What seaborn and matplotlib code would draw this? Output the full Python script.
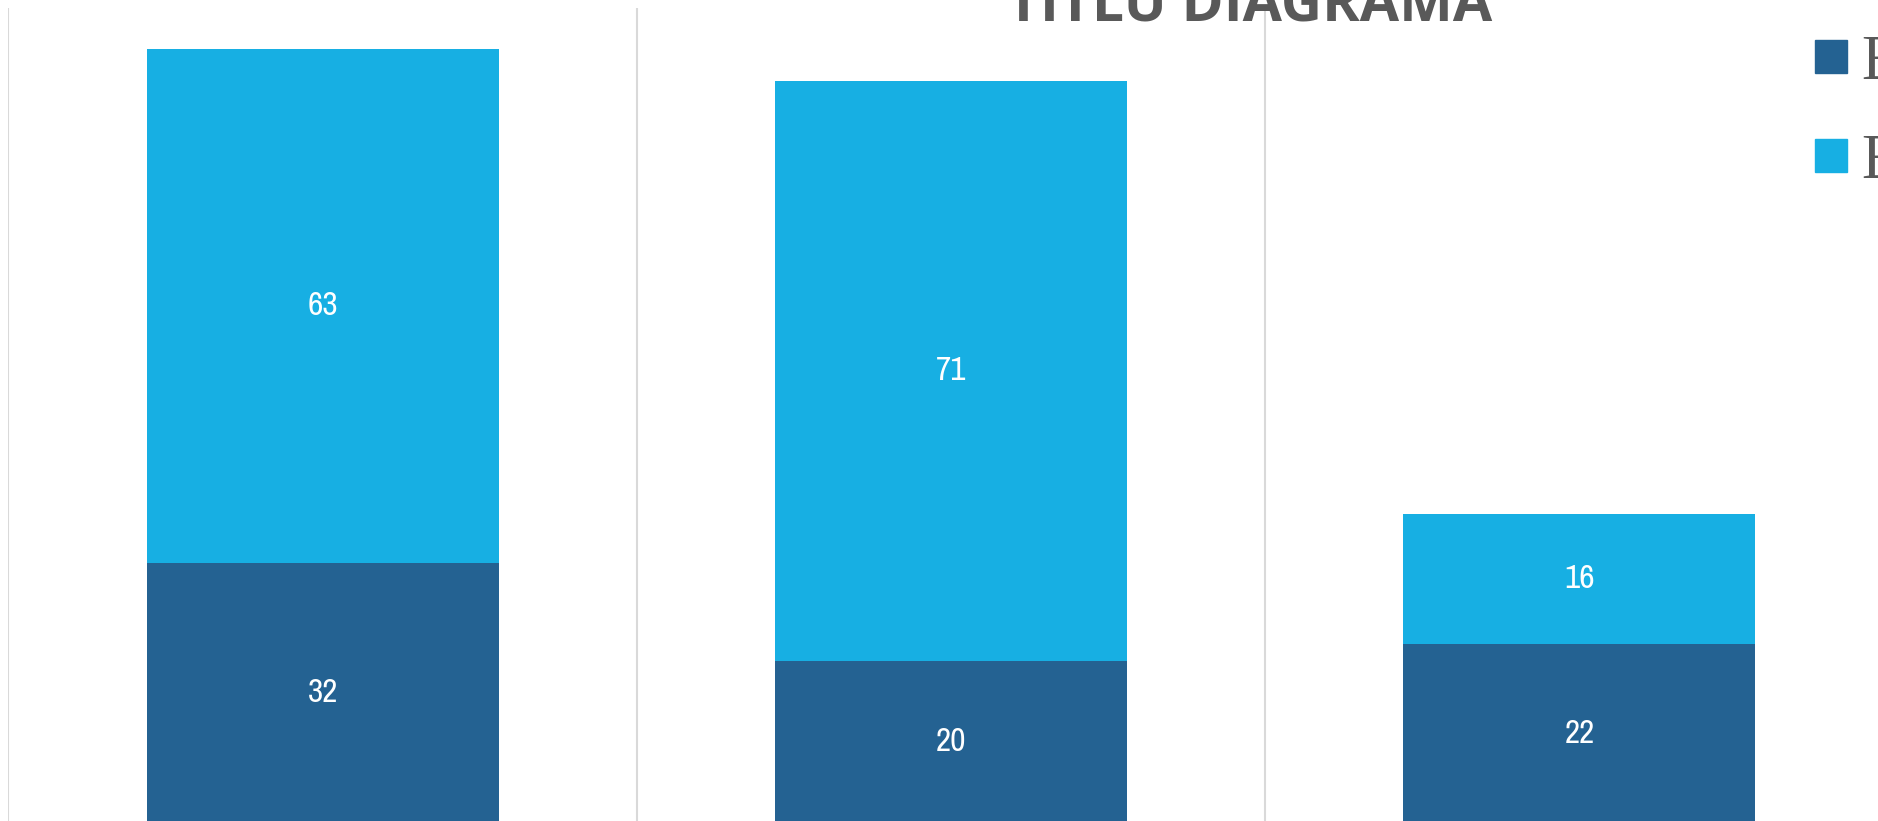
import pandas as pd
import seaborn as sns
import matplotlib.pyplot as plt
from matplotlib.patches import Patch
from matplotlib import font_manager as fm

# Data
categories = ['Categoria 1', 'Categoria 2', 'Categoria 3']
serie_1 = [32, 20, 22]   # dark segment (bottom)
serie_2 = [63, 71, 16]   # light segment (top)
legend_labels = ['Elevi promovați', 'Elevi corigenți']
chart_title = 'TITLU DIAGRAMA'

dark = '#246292'
light = '#17AFE3'
grey_text = '#595959'

df = pd.DataFrame({'categorie': categories, 'serie_1': serie_1, 'serie_2': serie_2})
df['total'] = df['serie_1'] + df['serie_2']

sns.set_style('white')

# narrow face for the data labels if one is installed
names = sorted({f.name for f in fm.fontManager.ttflist})
narrow = [n for n in names if 'Narrow' in n or 'Condensed' in n]
label_font = narrow[0] if narrow else 'Liberation Sans'
plt.rcParams['font.family'] = [label_font, 'DejaVu Sans']

W, H = 1878, 821
fig = plt.figure(figsize=(W / 100, H / 100), dpi=100)
# plot area is larger than the visible crop
ax = fig.add_axes([8.4 / W, -3 / H, 1885.2 / W, 816 / H])

# stacked bars: total in light colour, bottom series drawn over it
sns.barplot(data=df, x='categorie', y='total', color=light, width=0.56,
            linewidth=0, saturation=1, errorbar=None, ax=ax)
sns.barplot(data=df, x='categorie', y='serie_1', color=dark, width=0.56,
            linewidth=0, saturation=1, errorbar=None, ax=ax)

ax.set_xlim(-0.5, 2.5)
ax.set_ylim(0, 100)
ax.set_xticks([-0.5, 0.5, 1.5, 2.5], minor=True)
ax.grid(False)
ax.grid(which='minor', axis='x', color='#D9D9D9', linewidth=1.5)
ax.set_axisbelow(True)
ax.tick_params(which='both', length=0, labelbottom=False, labelleft=False)
ax.set_xlabel('')
ax.set_ylabel('')
for s in ax.spines.values():
    s.set_visible(False)

# data labels in the middle of each segment
lab_size = 24 if narrow else 20
for i in range(len(categories)):
    b, t = serie_1[i], serie_2[i]
    ax.text(i, b / 2, str(b), ha='center', va='center', color='white', fontsize=lab_size)
    ax.text(i, b + t / 2, str(t), ha='center', va='center', color='white', fontsize=lab_size)

fig.text(1250 / W, 1 - 21 / H, chart_title, ha='center', va='baseline',
         fontsize=41, fontweight='bold', color=grey_text, family=['Open Sans', 'DejaVu Sans'])

handles = [Patch(color=dark), Patch(color=light)]
ax.legend(handles, legend_labels, loc='upper left',
          bbox_to_anchor=(1815 / W, 1 - 35 / H), bbox_transform=fig.transFigure,
          frameon=False, prop={'family': ['Liberation Serif', 'DejaVu Serif'], 'size': 45},
          labelcolor=grey_text, handlelength=0.51, handleheight=0.44,
          handletextpad=0.25, labelspacing=0.65, borderpad=0, borderaxespad=0)

fig.savefig('out.png', dpi=100)
